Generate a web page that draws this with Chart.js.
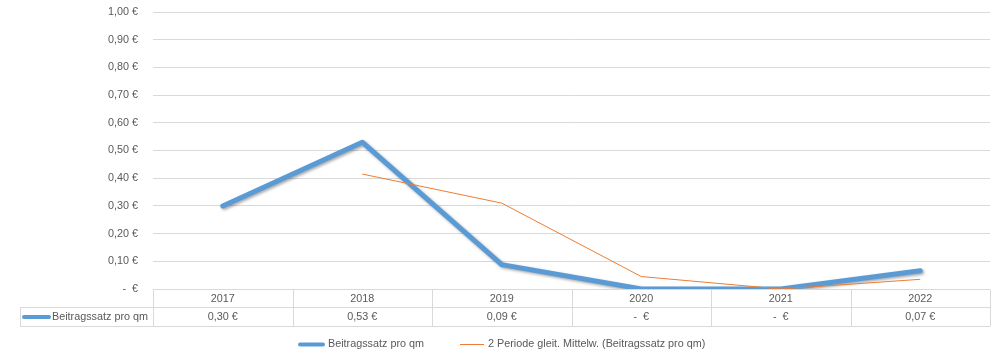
<!DOCTYPE html>
<html>
<head>
<meta charset="utf-8">
<script src="https://cdn.jsdelivr.net/npm/chart.js@4"></script>
<style>
  body { margin: 0; background: #fff; }
</style>
</head>
<body>
<canvas id="grafico" width="1000" height="359"></canvas>
<script>
const jahre = ['2017', '2018', '2019', '2020', '2021', '2022'];
const beitragssatz = [0.30, 0.53, 0.088, 0, 0, 0.066];
const gleitMittel = [null, 0.415, 0.31, 0.045, 0, 0.035];
const serienName = 'Beitragssatz pro qm';
const mittelName = '2 Periode gleit. Mittelw. (Beitragssatz pro qm)';

const blau = '#5b9bd5';
const orange = '#ed7d31';
const textFarbe = '#595959';
const schrift = '10.8px "Liberation Sans", Arial, sans-serif';

function euro(v) {
  if (Math.abs(v) < 0.005) return '-  €';
  return v.toFixed(2).replace('.', ',') + ' €';
}

// Datentabelle + Legende wie in Excel
const tabellePlugin = {
  id: 'tabelle',
  beforeDatasetDraw(chart, args) {
    if (args.index === 0) {
      const ctx = chart.ctx;
      ctx.save();
      ctx.shadowColor = 'rgba(0,0,0,0.35)';
      ctx.shadowBlur = 3;
      ctx.shadowOffsetX = 1.5;
      ctx.shadowOffsetY = 1.5;
    }
  },
  afterDatasetDraw(chart, args) {
    if (args.index === 0) chart.ctx.restore();
  },
  afterDraw(chart) {
    const ctx = chart.ctx;
    const area = chart.chartArea;
    const x = chart.scales.x;
    const spalte = (area.right - area.left) / jahre.length;
    const oben = Math.round(area.bottom) + 0.5;
    const mitte = oben + 18;
    const unten = oben + 37;
    const links = 20.5;

    ctx.save();
    ctx.strokeStyle = '#d9d9d9';
    ctx.lineWidth = 1;
    ctx.beginPath();
    ctx.moveTo(area.left, oben); ctx.lineTo(area.right, oben);
    ctx.moveTo(links, mitte); ctx.lineTo(area.right, mitte);
    ctx.moveTo(links, unten); ctx.lineTo(area.right, unten);
    ctx.moveTo(links, mitte); ctx.lineTo(links, unten);
    for (let i = 0; i <= jahre.length; i++) {
      const px = Math.round(area.left + i * spalte) + 0.5;
      ctx.moveTo(px, oben); ctx.lineTo(px, unten);
    }
    ctx.stroke();

    ctx.font = schrift;
    ctx.fillStyle = textFarbe;
    ctx.textAlign = 'center';
    ctx.textBaseline = 'middle';
    jahre.forEach((j, i) => {
      const cx = x.getPixelForValue(i);
      ctx.fillText(j, cx, (oben + mitte) / 2 + 0.5);
      ctx.fillText(euro(beitragssatz[i]), cx, (mitte + unten) / 2 + 0.5);
    });

    // Serienname in der Tabelle
    ctx.strokeStyle = blau;
    ctx.lineWidth = 4;
    ctx.lineCap = 'round';
    ctx.beginPath();
    ctx.moveTo(24, (mitte + unten) / 2); ctx.lineTo(49, (mitte + unten) / 2);
    ctx.stroke();
    ctx.textAlign = 'left';
    ctx.fillText(serienName, 52, (mitte + unten) / 2 + 0.5);

    // Legende unten
    const ly = 344.5;
    const w1 = ctx.measureText(serienName).width;
    let lx = 298;
    ctx.strokeStyle = blau;
    ctx.lineWidth = 4;
    ctx.beginPath();
    ctx.moveTo(lx + 2, ly); ctx.lineTo(lx + 25, ly);
    ctx.stroke();
    lx += 30;
    ctx.fillText(serienName, lx, ly);
    lx += w1 + 36;
    ctx.strokeStyle = orange;
    ctx.lineWidth = 1;
    ctx.lineCap = 'butt';
    ctx.beginPath();
    ctx.moveTo(lx, ly); ctx.lineTo(lx + 24, ly);
    ctx.stroke();
    lx += 28;
    ctx.fillText(mittelName, lx, ly);
    ctx.restore();
  }
};

const ctx = document.getElementById('grafico').getContext('2d');
new Chart(ctx, {
  type: 'line',
  data: {
    labels: jahre,
    datasets: [{
      label: serienName,
      data: beitragssatz,
      borderColor: blau,
      borderWidth: 5,
      borderJoinStyle: 'round',
      borderCapStyle: 'round',
      pointRadius: 0,
      tension: 0,
      order: 1
    }, {
      label: mittelName,
      data: gleitMittel,
      borderColor: orange,
      borderWidth: 1,
      pointRadius: 0,
      tension: 0,
      order: 0
    }]
  },
  options: {
    responsive: false,
    animation: false,
    layout: { padding: { left: 0, right: 10, top: 12, bottom: 70 } },
    plugins: {
      legend: { display: false },
      tooltip: { enabled: false }
    },
    scales: {
      x: {
        display: false,
        offset: true
      },
      y: {
        min: 0,
        max: 1,
        afterFit(scale) {
          scale.width = 153;
          scale.paddingTop = 0;
          scale.paddingBottom = 0;
        },
        border: { display: false },
        grid: { color: '#d9d9d9', drawTicks: false },
        ticks: {
          stepSize: 0.1,
          padding: 15,
          color: textFarbe,
          font: { family: '"Liberation Sans", Arial, sans-serif', size: 10.8 },
          callback: (v) => euro(v)
        }
      }
    }
  },
  plugins: [tabellePlugin]
});
</script>
</body>
</html>
